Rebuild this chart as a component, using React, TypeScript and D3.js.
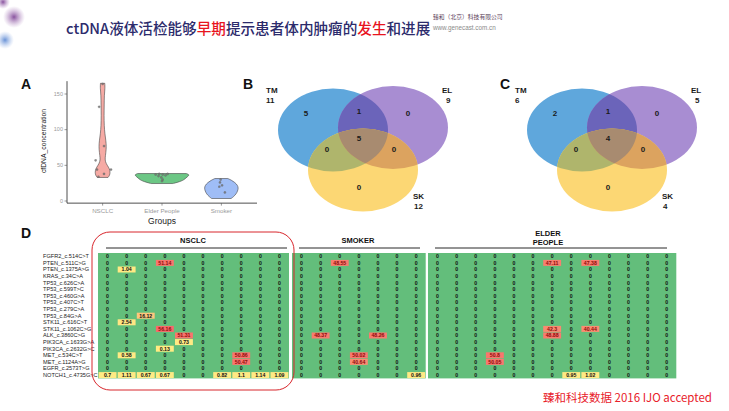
import React from "react";
import * as d3 from "d3";

const W = 729;
const H = 411;

// ---------- Panel A data ----------
const groups = ["NSCLC", "Elder People", "Smoker"];
const yTicks = [0, 50, 100, 150];
// violin profiles: [cfDNA value, relative density]
const nsclcDensity: [number, number][] = [
  [33, 0.2], [36, 0.26], [40, 0.28], [45, 0.26], [50, 0.17], [55, 0.1], [60, 0.09],
  [68, 0.12], [76, 0.14], [85, 0.12], [95, 0.08], [105, 0.06], [120, 0.05],
  [135, 0.06], [148, 0.06], [158, 0.09], [165, 0.08],
];
const elderDensity: [number, number][] = [
  [24.5, 0.4], [26, 0.56], [28, 0.72], [30, 0.82], [32, 0.88], [34, 0.94], [36, 1.0],
  [37.5, 0.98], [38.5, 0.9],
];
const smokerDensity: [number, number][] = [
  [3.5, 0.36], [6, 0.45], [10, 0.55], [14, 0.6], [18, 0.63], [22, 0.6], [26, 0.5],
  [29, 0.38], [31.5, 0.24],
];
const densities = [nsclcDensity, elderDensity, smokerDensity];
const violinFill = ["#f6aaa4", "#6cc785", "#9fbdf6"];
// jittered points: [group index, value, jitter]
const points: [number, number, number][] = [
  [0, 164, 0.0], [0, 132, -0.25], [0, 77, 0.1], [0, 57, -0.5], [0, 44, -0.4], [0, 44, 0.6],
  [0, 38, 0.1], [0, 34, -0.3],
  [1, 37, -0.45], [1, 38, -0.2], [1, 37, 0.05], [1, 36, 0.25], [1, 38, 0.4], [1, 33, -0.05],
  [1, 30, 0.05], [1, 28, 0.0], [1, 35, -0.25],
  [2, 30, -0.05], [2, 26, -0.1], [2, 22, 0.05], [2, 20, -0.15], [2, 12, 0.25],
];

// ---------- Venn data ----------
const vennSets = ["TM", "EL", "SK"];
const vennBTotals = [11, 9, 12];
const vennCTotals = [6, 5, 4];
// region order: TM only, TM∩EL, EL only, all three, TM∩SK, EL∩SK, SK only
const vennBRegions = [5, 1, 0, 5, 0, 0, 0];
const vennCRegions = [2, 1, 0, 4, 0, 0, 0];

// ---------- Panel D data ----------
const genes = [
  "FGFR2_c.514C>T", "PTEN_c.511C>G", "PTEN_c.1375A>G", "KRAS_c.34C>A", "TP53_c.626C>A",
  "TP53_c.599T>C", "TP53_c.460G>A", "TP53_c.407C>T", "TP53_c.279C>A", "TP53_c.84G>A",
  "STK11_c.616C>T", "STK11_c.1062C>G", "ALK_c.3860C>G", "PIK3CA_c.1633G>A",
  "PIK3CA_c.2632G>C", "MET_c.534C>T", "MET_c.1124A>G", "EGFR_c.2573T>G", "NOTCH1_c.4735G>C",
];
const nsclcMatrix: number[][] = [
  [0, 0, 0, 0, 0, 0, 0, 0, 0, 0],
  [0, 0, 0, 51.14, 0, 0, 0, 0, 0, 0],
  [0, 1.04, 0, 0, 0, 0, 0, 0, 0, 0],
  [0, 0, 0, 0, 0, 0, 0, 0, 0, 0],
  [0, 0, 0, 0, 0, 0, 0, 0, 0, 0],
  [0, 0, 0, 0, 0, 0, 0, 0, 0, 0],
  [0, 0, 0, 0, 0, 0, 0, 0, 0, 0],
  [0, 0, 0, 0, 0, 0, 0, 0, 0, 0],
  [0, 0, 0, 0, 0, 0, 0, 0, 0, 0],
  [0, 0, 16.12, 0, 0, 0, 0, 0, 0, 0],
  [0, 2.54, 0, 0, 0, 0, 0, 0, 0, 0],
  [0, 0, 0, 56.16, 0, 0, 0, 0, 0, 0],
  [0, 0, 0, 0, 51.31, 0, 0, 0, 0, 0],
  [0, 0, 0, 0, 0.73, 0, 0, 0, 0, 0],
  [0, 0, 0, 0.13, 0, 0, 0, 0, 0, 0],
  [0, 0.58, 0, 0, 0, 0, 0, 50.86, 0, 0],
  [0, 0, 0, 0, 0, 0, 0, 50.47, 0, 0],
  [0, 0, 0, 0, 0, 0, 0, 0, 0, 0],
  [0.7, 1.11, 0.67, 0.67, 0, 0, 0.82, 1.1, 1.14, 1.09],
];
const smokerMatrix: number[][] = [
  [0, 0, 0, 0, 0, 0, 0],
  [0, 0, 48.55, 0, 0, 0, 0],
  [0, 0, 0, 0, 0, 0, 0],
  [0, 0, 0, 0, 0, 0, 0],
  [0, 0, 0, 0, 0, 0, 0],
  [0, 0, 0, 0, 0, 0, 0],
  [0, 0, 0, 0, 0, 0, 0],
  [0, 0, 0, 0, 0, 0, 0],
  [0, 0, 0, 0, 0, 0, 0],
  [0, 0, 0, 0, 0, 0, 0],
  [0, 0, 0, 0, 0, 0, 0],
  [0, 0, 0, 0, 0, 0, 0],
  [0, 48.37, 0, 0, 48.26, 0, 0],
  [0, 0, 0, 0, 0, 0, 0],
  [0, 0, 0, 0, 0, 0, 0],
  [0, 0, 0, 50.02, 0, 0, 0],
  [0, 0, 0, 40.64, 0, 0, 0],
  [0, 0, 0, 0, 0, 0, 0],
  [0, 0, 0, 0, 0, 0, 0.96],
];
const elderMatrix: number[][] = [
  [0, 0, 0, 0, 0, 0, 0, 0, 0, 0, 0, 0, 0],
  [0, 0, 0, 0, 0, 0, 47.11, 0, 47.38, 0, 0, 0, 0],
  [0, 0, 0, 0, 0, 0, 0, 0, 0, 0, 0, 0, 0],
  [0, 0, 0, 0, 0, 0, 0, 0, 0, 0, 0, 0, 0],
  [0, 0, 0, 0, 0, 0, 0, 0, 0, 0, 0, 0, 0],
  [0, 0, 0, 0, 0, 0, 0, 0, 0, 0, 0, 0, 0],
  [0, 0, 0, 0, 0, 0, 0, 0, 0, 0, 0, 0, 0],
  [0, 0, 0, 0, 0, 0, 0, 0, 0, 0, 0, 0, 0],
  [0, 0, 0, 0, 0, 0, 0, 0, 0, 0, 0, 0, 0],
  [0, 0, 0, 0, 0, 0, 0, 0, 0, 0, 0, 0, 0],
  [0, 0, 0, 0, 0, 0, 0, 0, 0, 0, 0, 0, 0],
  [0, 0, 0, 0, 0, 0, 42.3, 0, 40.44, 0, 0, 0, 0],
  [0, 0, 0, 0, 0, 0, 48.88, 0, 0, 0, 0, 0, 0],
  [0, 0, 0, 0, 0, 0, 0, 0, 0, 0, 0, 0, 0],
  [0, 0, 0, 0, 0, 0, 0, 0, 0, 0, 0, 0, 0],
  [0, 0, 0, 50.8, 0, 0, 0, 0, 0, 0, 0, 0, 0],
  [0, 0, 0, 50.05, 0, 0, 0, 0, 0, 0, 0, 0, 0],
  [0, 0, 0, 0, 0, 0, 0, 0, 0, 0, 0, 0, 0],
  [0, 0, 0, 0, 0, 0, 0, 0.95, 1.02, 0, 0, 0, 0],
];

const SANS = "Arial, 'Liberation Sans', sans-serif";
const CJK = "'Noto Sans CJK SC', sans-serif";

function PanelA() {
  const y = d3.scaleLinear().domain([0, 150]).range([201, 94]);
  const x = d3.scalePoint<string>().domain(groups).range([67, 257]).padding(0.6);
  const w = d3.scaleLinear().domain([0, 1]).range([0, 27]);
  const axisTop = y(168);
  const axisBottom = y(-3);
  return (
    <g>
      <text x={21} y={89} fontFamily={SANS} fontWeight="bold" fontSize={14} fill="#111">A</text>
      {groups.map((g, i) => {
        const cx = x(g)!;
        const area = d3
          .area<[number, number]>()
          .y((d) => y(d[0]))
          .x0((d) => cx - w(d[1]))
          .x1((d) => cx + w(d[1]))
          .curve(d3.curveBasis);
        return (
          <path key={g} d={area(densities[i]) || ""} fill={violinFill[i]} stroke="#444" strokeWidth={0.6} />
        );
      })}
      {points.map((p, i) => (
        <circle key={i} cx={x(groups[p[0]])! + p[2] * 14} cy={y(p[1])} r={1.1} fill="#777" stroke="#555" strokeWidth={0.3} opacity={0.85} />
      ))}
      <line x1={67} x2={67} y1={axisTop} y2={axisBottom} stroke="#222" strokeWidth={0.8} />
      <line x1={67} x2={257} y1={axisBottom} y2={axisBottom} stroke="#222" strokeWidth={0.8} />
      {yTicks.map((t) => (
        <g key={t}>
          <line x1={64.5} x2={67} y1={y(t)} y2={y(t)} stroke="#555" strokeWidth={0.6} />
          <text x={63} y={y(t)} dy="0.33em" textAnchor="end" fontFamily={SANS} fontSize={5.5} fill="#9a9a9a">{t}</text>
        </g>
      ))}
      {groups.map((g) => (
        <g key={g}>
          <line x1={x(g)} x2={x(g)} y1={axisBottom} y2={axisBottom + 2.5} stroke="#555" strokeWidth={0.6} />
          <text x={x(g)} y={213} textAnchor="middle" fontFamily={SANS} fontSize={6.2} fill="#9a9a9a">{g}</text>
        </g>
      ))}
      <text x={162} y={224} textAnchor="middle" fontFamily={SANS} fontSize={8.5} fill="#222">Groups</text>
      <text transform="translate(46,141) rotate(-90)" textAnchor="middle" fontFamily={SANS} fontSize={6.8} fill="#222">cfDNA_concentration</text>
    </g>
  );
}

const vennColors = {
  tm: "#5fa7dc",
  el: "#a88dd2",
  sk: "#fcd774",
  tmEl: "#6b64ba",
  tmSk: "#afb56c",
  elSk: "#dca35f",
  all: "#a88b70",
};

function Venn({ id, cx, letter, letterX, totals, regions }: { id: string; cx: number; letter: string; letterX: number; totals: number[]; regions: number[] }) {
  const cy = 130;
  const rx = 55;
  const ry = 41.5;
  const c = [
    { x: cx, y: cy },
    { x: cx + 60, y: cy - 2.5 },
    { x: cx + 30, y: cy + 40 },
  ];
  const regionPos = [
    [-27, -17], [26, -19], [75, -17], [26, 8], [-6, 19], [61, 19], [26, 57],
  ];
  const labelPos = [
    [-67, -37], [109, -37], [80, 69],
  ];
  const totalPos = [
    [-67, -27], [113, -27], [81, 79],
  ];
  const el = (i: number, fill: string, extra: any = {}) => (
    <ellipse cx={c[i].x} cy={c[i].y} rx={rx} ry={ry} fill={fill} {...extra} />
  );
  return (
    <g>
      <defs>
        <clipPath id={`${id}-tm`}>{el(0, "#000")}</clipPath>
        <clipPath id={`${id}-el`}>{el(1, "#000")}</clipPath>
      </defs>
      <text x={letterX} y={89} fontFamily={SANS} fontWeight="bold" fontSize={14} fill="#111">{letter}</text>
      {el(0, vennColors.tm)}
      {el(1, vennColors.el)}
      {el(2, vennColors.sk)}
      {el(1, vennColors.tmEl, { clipPath: `url(#${id}-tm)` })}
      {el(2, vennColors.tmSk, { clipPath: `url(#${id}-tm)` })}
      {el(2, vennColors.elSk, { clipPath: `url(#${id}-el)` })}
      <g clipPath={`url(#${id}-tm)`}>{el(2, vennColors.all, { clipPath: `url(#${id}-el)` })}</g>
      {regions.map((v, i) => (
        <text key={i} x={cx + regionPos[i][0]} y={cy + regionPos[i][1]} dy="0.35em" textAnchor="middle" fontFamily={SANS} fontWeight="bold" fontSize={8} fill="#1a1a1a">{v}</text>
      ))}
      {vennSets.map((s, i) => (
        <g key={s}>
          <text x={cx + labelPos[i][0]} y={cy + labelPos[i][1]} fontFamily={SANS} fontWeight="bold" fontSize={8} fill="#1a1a1a">{s}</text>
          <text x={cx + totalPos[i][0]} y={cy + totalPos[i][1]} fontFamily={SANS} fontWeight="bold" fontSize={8} fill="#1a1a1a">{totals[i]}</text>
        </g>
      ))}
    </g>
  );
}

function PanelD() {
  const rows = d3.scaleBand<string>().domain(genes).range([253, 378.4]);
  const allVals = [...nsclcMatrix, ...smokerMatrix, ...elderMatrix].flat().filter((v) => v > 0);
  const color = d3
    .scaleLinear<string>()
    .domain([d3.min(allVals)!, d3.max(allVals)!])
    .range(["#ffeb84", "#f8696b"]);
  const colW = 19.1;
  const sections = [
    { m: nsclcMatrix, x0: 98 },
    { m: smokerMatrix, x0: 292 },
    { m: elderMatrix, x0: 428 },
  ];
  return (
    <g>
      <text x={21} y={238} fontFamily={SANS} fontWeight="bold" fontSize={14} fill="#111">D</text>
      {genes.map((g) => (
        <text key={g} x={43} y={rows(g)! + rows.bandwidth() / 2} dy="0.35em" fontFamily={SANS} fontSize={5.6} fill="#222">{g}</text>
      ))}
      {sections.map((s, si) => {
        const n = s.m[0].length;
        const cols = d3.scaleBand<number>().domain(d3.range(n)).range([s.x0, s.x0 + n * colW]);
        return (
          <g key={si}>
            <rect x={s.x0} y={253} width={n * colW} height={125.4} fill="#63be7b" />
            {s.m.map((row, ri) =>
              row.map((v, ci) => {
                const yy = rows(genes[ri])!;
                const xx = cols(ci)!;
                return (
                  <g key={`${ri}-${ci}`}>
                    {v > 0 && (
                      <rect x={xx + 0.6} y={yy + 0.3} width={cols.bandwidth() - 1.2} height={rows.bandwidth() - 0.6} fill={color(v)} />
                    )}
                    <text x={xx + cols.bandwidth() / 2} y={yy + rows.bandwidth() / 2} dy="0.35em" textAnchor="middle" fontFamily={SANS} fontWeight="bold" fontSize={5.2} fill={v > 20 ? "#8c0a0a" : "#111"}>{v}</text>
                  </g>
                );
              })
            )}
          </g>
        );
      })}
      <text x={193} y={243} textAnchor="middle" fontFamily={SANS} fontWeight="bold" fontSize={7.5} fill="#111">NSCLC</text>
      <line x1={106} x2={287} y1={248} y2={248} stroke="#111" strokeWidth={0.9} />
      <text x={358} y={243} textAnchor="middle" fontFamily={SANS} fontWeight="bold" fontSize={7.5} fill="#111">SMOKER</text>
      <line x1={299} x2={420} y1={248} y2={248} stroke="#111" strokeWidth={0.9} />
      <text x={548} y={236} textAnchor="middle" fontFamily={SANS} fontWeight="bold" fontSize={7.5} fill="#111">ELDER</text>
      <text x={548} y={245} textAnchor="middle" fontFamily={SANS} fontWeight="bold" fontSize={7.5} fill="#111">PEOPLE</text>
      <line x1={435} x2={667} y1={248} y2={248} stroke="#111" strokeWidth={0.9} />
      <rect x={92} y={232} width={202} height={158} rx={18} ry={18} fill="none" stroke="#d8262c" strokeWidth={1} />
    </g>
  );
}

export default function App() {
  return (
    <svg width={W} height={H} viewBox={`0 0 ${W} ${H}`} style={{ position: "absolute", left: 0, top: 0, background: "#fff" }}>
      <defs>
        <radialGradient id="blobP">
          <stop offset="0%" stopColor="#7b3f93" stopOpacity={0.9} />
          <stop offset="100%" stopColor="#b48cc4" stopOpacity={0} />
        </radialGradient>
        <radialGradient id="blobB">
          <stop offset="0%" stopColor="#4f7fcf" stopOpacity={0.85} />
          <stop offset="100%" stopColor="#9db8e8" stopOpacity={0} />
        </radialGradient>
      </defs>
      <rect width={W} height={H} fill="#fff" />
      <circle cx={3} cy={2} r={7} fill="url(#blobP)" />
      <circle cx={14} cy={17} r={11} fill="url(#blobP)" />
      <circle cx={5} cy={40} r={9} fill="url(#blobB)" />
      <text x={66} y={34} fontFamily={CJK} fontSize={14.6} fontWeight={500} fill="#2c2b6c">
        <tspan>ctDNA液体活检能够</tspan>
        <tspan fill="#e8141e">早期</tspan>
        <tspan>提示患者体内肿瘤的</tspan>
        <tspan fill="#e8141e">发生</tspan>
        <tspan>和进展</tspan>
      </text>
      <text x={433} y={19} fontFamily={CJK} fontSize={5.8} fill="#5a3b57">臻和（北京）科技有限公司</text>
      <text x={433} y={30} fontFamily={SANS} fontSize={6.3} fill="#8a8a8a">www.genecast.com.cn</text>
      <PanelA />
      <Venn id="vb" cx={333} letter="B" letterX={243} totals={vennBTotals} regions={vennBRegions} />
      <Venn id="vc" cx={582} letter="C" letterX={500} totals={vennCTotals} regions={vennCRegions} />
      <PanelD />
      <text x={543} y={402} fontFamily={CJK} fontSize={11.5} fill="#e8202a">臻和科技数据 2016 IJO accepted</text>
    </svg>
  );
}
